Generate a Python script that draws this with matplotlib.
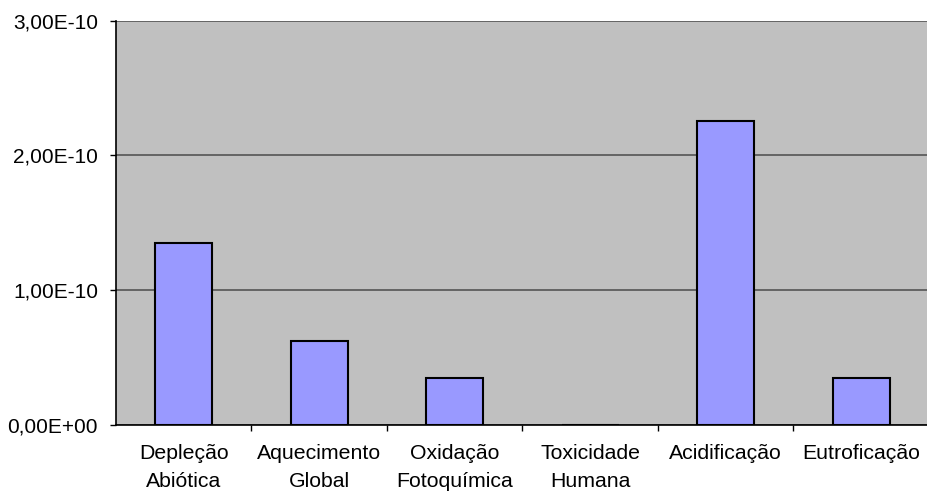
import matplotlib
matplotlib.use("Agg")
import matplotlib.pyplot as plt
from matplotlib.ticker import FuncFormatter, MultipleLocator

categorias = ["Depleção\nAbiótica", "Aquecimento\nGlobal", "Oxidação\nFotoquímica",
              "Toxicidade\nHumana", "Acidificação", "Eutroficação"]
valores = [1.352e-10, 0.625e-10, 0.35e-10, 0.0, 2.257e-10, 0.35e-10]

plt.rcParams['font.family'] = ['Liberation Sans', 'DejaVu Sans']

W, H = 928, 497
fig = plt.figure(figsize=(W / 100, H / 100), dpi=100)
ax = fig.add_axes([116 / W, 1 - 425 / H, (929 - 116) / W, (425 - 20.7) / H])
ax.set_facecolor('#C0C0C0')

x = range(len(categorias))
ax.bar(x, valores, width=0.42, color='#9999FF', edgecolor='black', linewidth=1.5, zorder=3)

ax.set_xlim(-0.5, len(categorias) - 0.5)
ax.set_ylim(0, 3e-10)
ax.yaxis.set_major_locator(MultipleLocator(1e-10))
ax.yaxis.set_major_formatter(FuncFormatter(lambda v, p: f"{v:.2E}".replace('.', ',')))
ax.grid(axis='y', color='#555555', linewidth=1.2, zorder=1)

# ticks on the category boundaries, labels in the middle
ax.set_xticks([i + 0.5 for i in range(len(categorias) - 1)])
ax.set_xticklabels([])
ax.set_xticks(list(x), minor=True)
ax.set_xticklabels(categorias, minor=True, fontsize=15.3, linespacing=1.6)
ax.tick_params(axis='x', which='minor', length=0, pad=14)
ax.tick_params(axis='x', which='major', length=4.5, width=1, color='black', direction='out')
ax.tick_params(axis='y', length=4.5, width=1, pad=8.5, labelsize=15, direction='out')

for s in ['top', 'right']:
    ax.spines[s].set_visible(False)
ax.spines['left'].set_linewidth(1.2)
ax.spines['bottom'].set_linewidth(1.2)

fig.savefig('out.png', dpi=100)
